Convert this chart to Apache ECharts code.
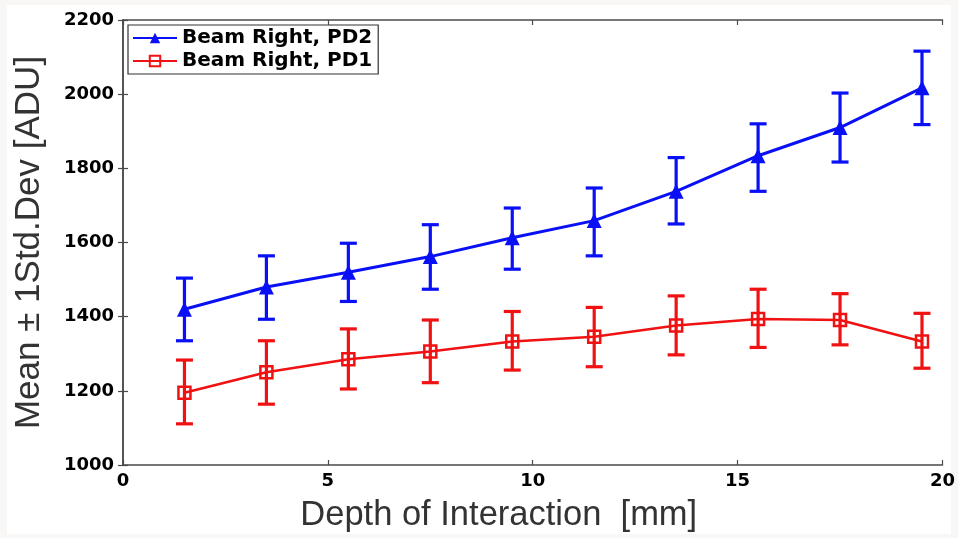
<!DOCTYPE html>
<html>
<head>
<meta charset="utf-8">
<script src="https://cdn.jsdelivr.net/npm/echarts@6/dist/echarts.min.js"></script>
<style>
  html, body { margin: 0; padding: 0; background: #f8f7f5; }
  #chart { width: 958px; height: 538px; }
</style>
</head>
<body>
<div id="chart"></div>
<script>
// Depth of interaction (mm) at which each measurement was taken
const depth = [1.5, 3.5, 5.5, 7.5, 9.5, 11.5, 13.5, 15.5, 17.5, 19.5];

// Beam Right, PD2: mean and mean ± 1 std. dev. (ADU)
const pd2Mean = [1420, 1480, 1520, 1562, 1613, 1659, 1738, 1834, 1910, 2017];
const pd2Low  = [1335, 1393, 1441, 1474, 1528, 1564, 1650, 1738, 1817, 1918];
const pd2High = [1504, 1564, 1598, 1648, 1693, 1747, 1829, 1920, 2003, 2116];

// Beam Right, PD1: mean and mean ± 1 std. dev. (ADU)
const pd1Mean = [1195, 1250, 1285, 1306, 1333, 1346, 1376, 1394, 1391, 1333];
const pd1Low  = [1111, 1164, 1205, 1222, 1256, 1265, 1297, 1317, 1324, 1261];
const pd1High = [1283, 1335, 1367, 1391, 1414, 1425, 1456, 1474, 1462, 1409];

// Axis ranges / ticks
const xTicks = [0, 5, 10, 15, 20];
const yTicks = [1000, 1200, 1400, 1600, 1800, 2000, 2200];

const BLUE = '#0a10f5';
const RED = '#f01212';
const FRAME = '#4a4a4a';

const chart = echarts.init(document.getElementById('chart'), null, { renderer: 'canvas' });

function pairs(xs, ys) { return xs.map((x, i) => [x, ys[i]]); }
function bars(xs, lo, hi) { return xs.map((x, i) => [x, lo[i], hi[i]]); }

// Vertical error bar with horizontal caps
function errorBar(color) {
  return function (params, api) {
    const x = api.value(0);
    const lo = api.coord([x, api.value(1)]);
    const hi = api.coord([x, api.value(2)]);
    const half = 8.5;
    const style = { stroke: color, lineWidth: 3.2, fill: null };
    return {
      type: 'group',
      children: [
        { type: 'line', shape: { x1: lo[0], y1: lo[1], x2: hi[0], y2: hi[1] }, style },
        { type: 'line', shape: { x1: lo[0] - half, y1: lo[1], x2: lo[0] + half, y2: lo[1] }, style },
        { type: 'line', shape: { x1: hi[0] - half, y1: hi[1], x2: hi[0] + half, y2: hi[1] }, style }
      ]
    };
  };
}

const tickFont = { fontFamily: 'DejaVu Sans', fontWeight: 'bold', fontSize: 18, color: '#000' };
const plainNumber = v => String(v);

const frameAxis = {
  axisLine: { show: true, lineStyle: { color: FRAME, width: 1.5 } },
  axisTick: { show: true, inside: true, length: 5, lineStyle: { color: FRAME, width: 1.2 } },
  splitLine: { show: false }
};

chart.setOption({
  backgroundColor: '#f8f7f5',
  animation: false,
  graphic: [
    { type: 'rect', z: -10, shape: { x: 7, y: 5, width: 944, height: 529 }, style: { fill: '#ffffff' } }
  ],
  grid: { left: 123, right: 15, top: 20, bottom: 73, containLabel: false },
  legend: {
    left: 128, top: 25,
    orient: 'vertical',
    backgroundColor: '#fff',
    borderColor: '#333', borderWidth: 1.2,
    padding: [3, 6, 3, 4],
    itemGap: 3,
    itemWidth: 44, itemHeight: 13,
    textStyle: { fontFamily: 'DejaVu Sans', fontWeight: 'bold', fontSize: 20, color: '#000' },
    data: ['Beam Right, PD2', 'Beam Right, PD1']
  },
  xAxis: [
    Object.assign({
      type: 'value', min: xTicks[0], max: xTicks[xTicks.length - 1], interval: 5,
      position: 'bottom',
      name: 'Depth of Interaction  [mm]', nameLocation: 'middle', nameGap: 33,
      nameTextStyle: { fontFamily: 'Liberation Sans', fontSize: 34.5, color: '#333', padding: [0, 68, 0, 0] },
      axisLabel: Object.assign({ margin: 7, formatter: plainNumber }, tickFont)
    }, frameAxis),
    Object.assign({
      type: 'value', min: xTicks[0], max: xTicks[xTicks.length - 1], interval: 5,
      position: 'top', axisLabel: { show: false }
    }, frameAxis)
  ],
  yAxis: [
    Object.assign({
      type: 'value', min: yTicks[0], max: yTicks[yTicks.length - 1], interval: 200,
      position: 'left',
      name: 'Mean \u00b1 1Std.Dev [ADU]', nameLocation: 'middle', nameGap: 76,
      nameTextStyle: { fontFamily: 'Liberation Sans', fontSize: 35, color: '#333' },
      axisLabel: Object.assign({ margin: 9, formatter: plainNumber }, tickFont)
    }, frameAxis),
    Object.assign({
      type: 'value', min: yTicks[0], max: yTicks[yTicks.length - 1], interval: 200,
      position: 'right', axisLabel: { show: false }
    }, frameAxis)
  ],
  series: [
    {
      name: 'Beam Right, PD2', type: 'line', data: pairs(depth, pd2Mean),
      symbol: 'triangle', symbolSize: 15,
      lineStyle: { color: BLUE, width: 3 },
      itemStyle: { color: BLUE },
      z: 3
    },
    {
      name: 'Beam Right, PD1', type: 'line', data: pairs(depth, pd1Mean),
      symbol: 'rect', symbolSize: 12,
      lineStyle: { color: RED, width: 2.5 },
      itemStyle: { color: 'rgba(255,255,255,0)', borderColor: RED, borderWidth: 2.5 },
      z: 3
    },
    {
      name: 'PD2 error', type: 'custom', data: bars(depth, pd2Low, pd2High),
      renderItem: errorBar(BLUE), z: 4, silent: true
    },
    {
      name: 'PD1 error', type: 'custom', data: bars(depth, pd1Low, pd1High),
      renderItem: errorBar(RED), z: 4, silent: true
    }
  ]
});
</script>
</body>
</html>
